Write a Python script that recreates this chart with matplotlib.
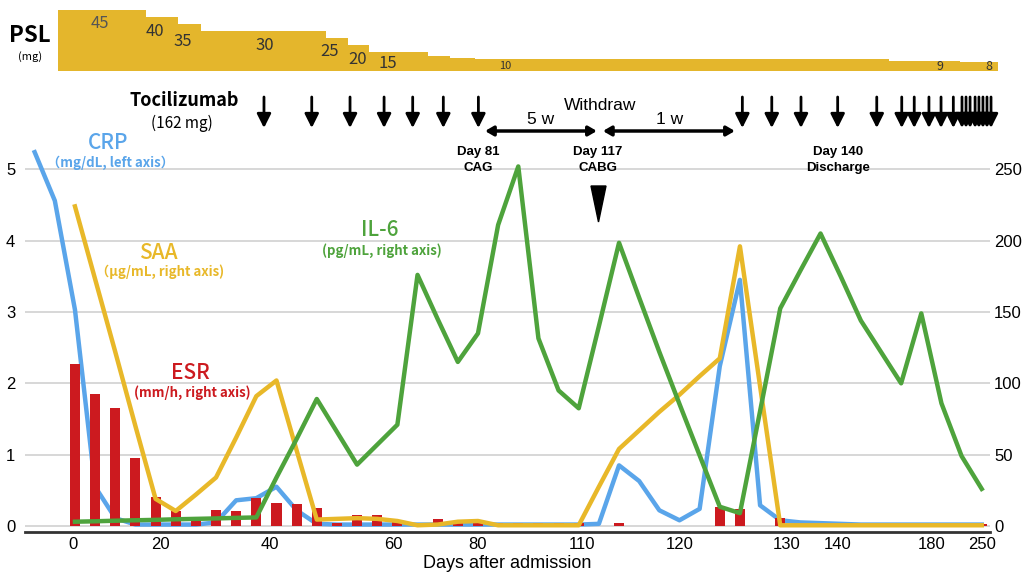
import numpy as np
import matplotlib
matplotlib.use('Agg')
import matplotlib.pyplot as plt
from matplotlib.patches import Polygon, ArrowStyle

plt.rcParams['font.family'] = ['Liberation Sans', 'DejaVu Sans']
JP = ['Noto Sans CJK JP', 'DejaVu Sans']

# ---- data (x = measurement slot on the non-linear day axis) ----
crp_x = np.arange(-2, 46)
crp = [5.24, 4.56, 3.03, 0.55, 0.11, 0.02, 0.02, 0.02, 0.02, 0.05,
       0.36, 0.39, 0.55, 0.22, 0.03, 0.02, 0.02, 0.02, 0.02, 0.02,
       0.02, 0.02, 0.02, 0.02, 0.02, 0.02, 0.02, 0.02, 0.03, 0.85,
       0.63, 0.22, 0.08, 0.24, 2.24, 3.45, 0.29, 0.08, 0.05, 0.04,
       0.03, 0.02, 0.02, 0.02, 0.02, 0.02, 0.02, 0.02]

x = np.arange(0, 46)
saa = [224, 173, 122, 70, 19, 10.5, 22, 34, 62, 91,
       102, 53, 4.5, 5, 5.5, 5, 3.5, 0.5, 1, 3,
       3.5, 0.5, 0.5, 0.5, 0.5, 0.5, 27.5, 54, 67, 80,
       92, 105, 117.5, 196, 98, 0.5, 0.5, 0.5, 0.5, 0.5,
       0.5, 0.5, 0.5, 0.5, 0.5, 0.5]
il6 = [3, 3.3, 3.7, 4, 4.3, 4.7, 5, 5.3, 5.7, 6,
       34, 61, 89, 66, 43, 57, 71, 176, 145, 115,
       135, 211, 252, 131.5, 95, 82.5, 140, 198.5, 160, 122,
       85.5, 49.5, 13.5, 9, 80.5, 152.5, 179, 205, 175, 144,
       122, 100, 149, 86, 49, 26]
esr = [113.5, 92.5, 82.5, 48, 20, 10.7, 6, 11.5, 10.5, 19.5,
       16.4, 15.3, 12.4, 2.3, 7.7, 7.7, 3, 2.3, 5, 2,
       2.3, 2.3, 2, 2, 2, 2, 0, 2, 0, 0,
       0, 0, 13.5, 11.7, 0, 5.8, 1.5, 1.5, 1.5, 1.5,
       1.5, 1.5, 1.5, 1.5, 1.5, 1.5]

tick_pos = [-0.11, 4.22, 9.68, 15.78, 20.0, 25.15, 30.02, 35.32, 37.87, 42.52, 45.0]
tick_labels = ['0', '20', '40', '60', '80', '110', '120', '130', '140', '180', '250']

# prednisolone dose steps (slot edges) and tocilizumab injections
psl_edges = [-0.84, 3.52, 5.11, 6.25, 12.46, 13.55, 14.59, 17.52, 18.61, 19.85, 40.4, 43.9, 45.8]
psl_dose = [45, 40, 35, 30, 25, 20, 15, 12.5, 11, 10, 9, 8]
toci = [9.38, 11.75, 13.65, 15.34, 16.76, 18.28, 20.02, 33.12, 34.58, 36.03,
        37.85, 39.79, 41.03, 41.65, 42.38, 42.98, 43.59, 44.02, 44.22, 44.42,
        44.67, 44.86, 45.06, 45.26, 45.46]
events = [(20.0, 'Day 81\nCAG'), (25.96, 'Day 117\nCABG'), (37.85, 'Day 140\nDischarge')]

BLUE, GOLD, GREEN, RED = '#5aa5ea', '#e8b829', '#4ea33c', '#cc1a1f'

W, H = 1025, 573
fig = plt.figure(figsize=(W / 100, H / 100), dpi=100)


def fx(px):
    return px / W


def fy(py):
    return 1 - py / H


# main panel
ax = fig.add_axes([fx(25), fy(531.7), fx(990) - fx(25), fy(147.9) - fy(531.7)])
ax2 = ax.twinx()
ax.set_xlim(-2.48, 45.41)
ax.set_ylim(-0.08, 5.3)
ax2.set_ylim(-4, 265)
ax.set_yticks(range(6))
ax2.set_yticks(range(0, 251, 50))
ax.yaxis.grid(True, color='#d4d4d4', lw=1.3)
ax.set_axisbelow(True)
for a in (ax, ax2):
    for s in a.spines.values():
        s.set_visible(False)
ax.spines['bottom'].set_visible(True)
ax.spines['bottom'].set_color('#333333')
ax.spines['bottom'].set_linewidth(2)
ax.set_xticks(tick_pos, tick_labels)
ax.tick_params(axis='x', length=0, labelsize=12, pad=4)
ax.tick_params(axis='y', length=0, labelsize=12, pad=7)
ax2.tick_params(axis='y', length=0, labelsize=12, pad=3)
ax.set_xlabel('Days after admission', fontsize=13, labelpad=2)

ax2.bar(x, esr, width=0.5, color=RED, zorder=1)
ax.plot(crp_x, crp, color=BLUE, lw=3.2, clip_on=False)
ax2.plot(x, saa, color=GOLD, lw=3.2, zorder=2)
ax2.plot(x, il6, color=GREEN, lw=3.2, zorder=3)

# PSL panel
axp = fig.add_axes([fx(25), fy(71), fx(998) - fx(25), fy(10) - fy(71)])
axp.set_xlim(-2.48, 45.8)
axp.set_ylim(1.7, 45)
axp.stairs(psl_dose, psl_edges, baseline=0, fill=True, color='#e4b62c')
axp.axis('off')

fig.text(fx(30), fy(36), 'PSL', fontsize=16, fontweight='bold', family=JP, ha='center', va='center')
fig.text(fx(30), fy(57), '(mg)', fontsize=8, family=JP, ha='center', va='center')
psl_labels = [('45', 100, 23, 12), ('40', 155, 32, 12), ('35', 183, 42, 12), ('30', 265, 46, 12),
              ('25', 330, 52, 12), ('20', 358, 59, 12), ('15', 388, 63, 12), ('10', 505, 66, 8),
              ('9', 940, 67, 9), ('8', 989, 67, 9)]
for t, px, py, fs in psl_labels:
    fig.text(fx(px), fy(py), t, fontsize=fs, family=JP, color='#555555' if t == '45' else '#333333',
             ha='center', va='center')

# tocilizumab injections
fig.text(fx(184), fy(101), 'Tocilizumab', fontsize=13, fontweight='bold', family=JP, ha='center', va='center')
fig.text(fx(182), fy(123), '(162 mg)', fontsize=11, family=JP, ha='center', va='center')
head = ArrowStyle('-|>', head_length=0.7, head_width=0.35)
for t in toci:
    ax.annotate('', xy=(t, fy(128)), xytext=(t, fy(97)),
                xycoords=('data', 'figure fraction'), textcoords=('data', 'figure fraction'),
                arrowprops=dict(arrowstyle=head, color='black', lw=2, mutation_scale=12,
                                shrinkA=0, shrinkB=0),
                annotation_clip=False)

# withdrawal period
wd = ArrowStyle('<|-|>', head_length=0.6, head_width=0.35)
for x0, x1 in [(20.35, 25.9), (26.2, 32.75)]:
    ax.annotate('', xy=(x1, fy(131)), xytext=(x0, fy(131)),
                xycoords=('data', 'figure fraction'), textcoords=('data', 'figure fraction'),
                arrowprops=dict(arrowstyle=wd, color='black', lw=2.5, mutation_scale=8,
                                shrinkA=0, shrinkB=0),
                annotation_clip=False)
fig.text(fx(600), fy(105), 'Withdraw', fontsize=12.5, ha='center', va='center')
fig.text(fx(541), fy(119), '5 w', fontsize=12.5, ha='center', va='center')
fig.text(fx(670), fy(119), '1 w', fontsize=12.5, ha='center', va='center')

# events
for ex, lab in events:
    ax.annotate(lab, xy=(ex, fy(160)), xycoords=('data', 'figure fraction'),
                ha='center', va='center', fontsize=9.5, fontweight='bold',
                linespacing=1.35, annotation_clip=False)
fig.add_artist(Polygon([(fx(591), fy(186)), (fx(606), fy(186)), (fx(598.5), fy(222))],
                       closed=True, color='black', transform=fig.transFigure))

# series labels
series_labels = [('CRP', '（mg/dL, left axis）', BLUE, 108, 143, 163),
                 ('SAA', '（μg/mL, right axis)', GOLD, 158, 253, 272),
                 ('IL-6', '(pg/mL, right axis)', GREEN, 380, 230, 251),
                 ('ESR', '(mm/h, right axis)', RED, 190, 373, 393)]
for name, unit, c, px, py1, py2 in series_labels:
    fig.text(fx(px), fy(py1), name, fontsize=15, fontweight='medium', color=c, family=JP,
             ha='center', va='center')
    fig.text(fx(px + 2), fy(py2), unit, fontsize=9.5, fontweight='bold', color=c, family=JP,
             ha='center', va='center')

fig.savefig('out.png', dpi=100)
